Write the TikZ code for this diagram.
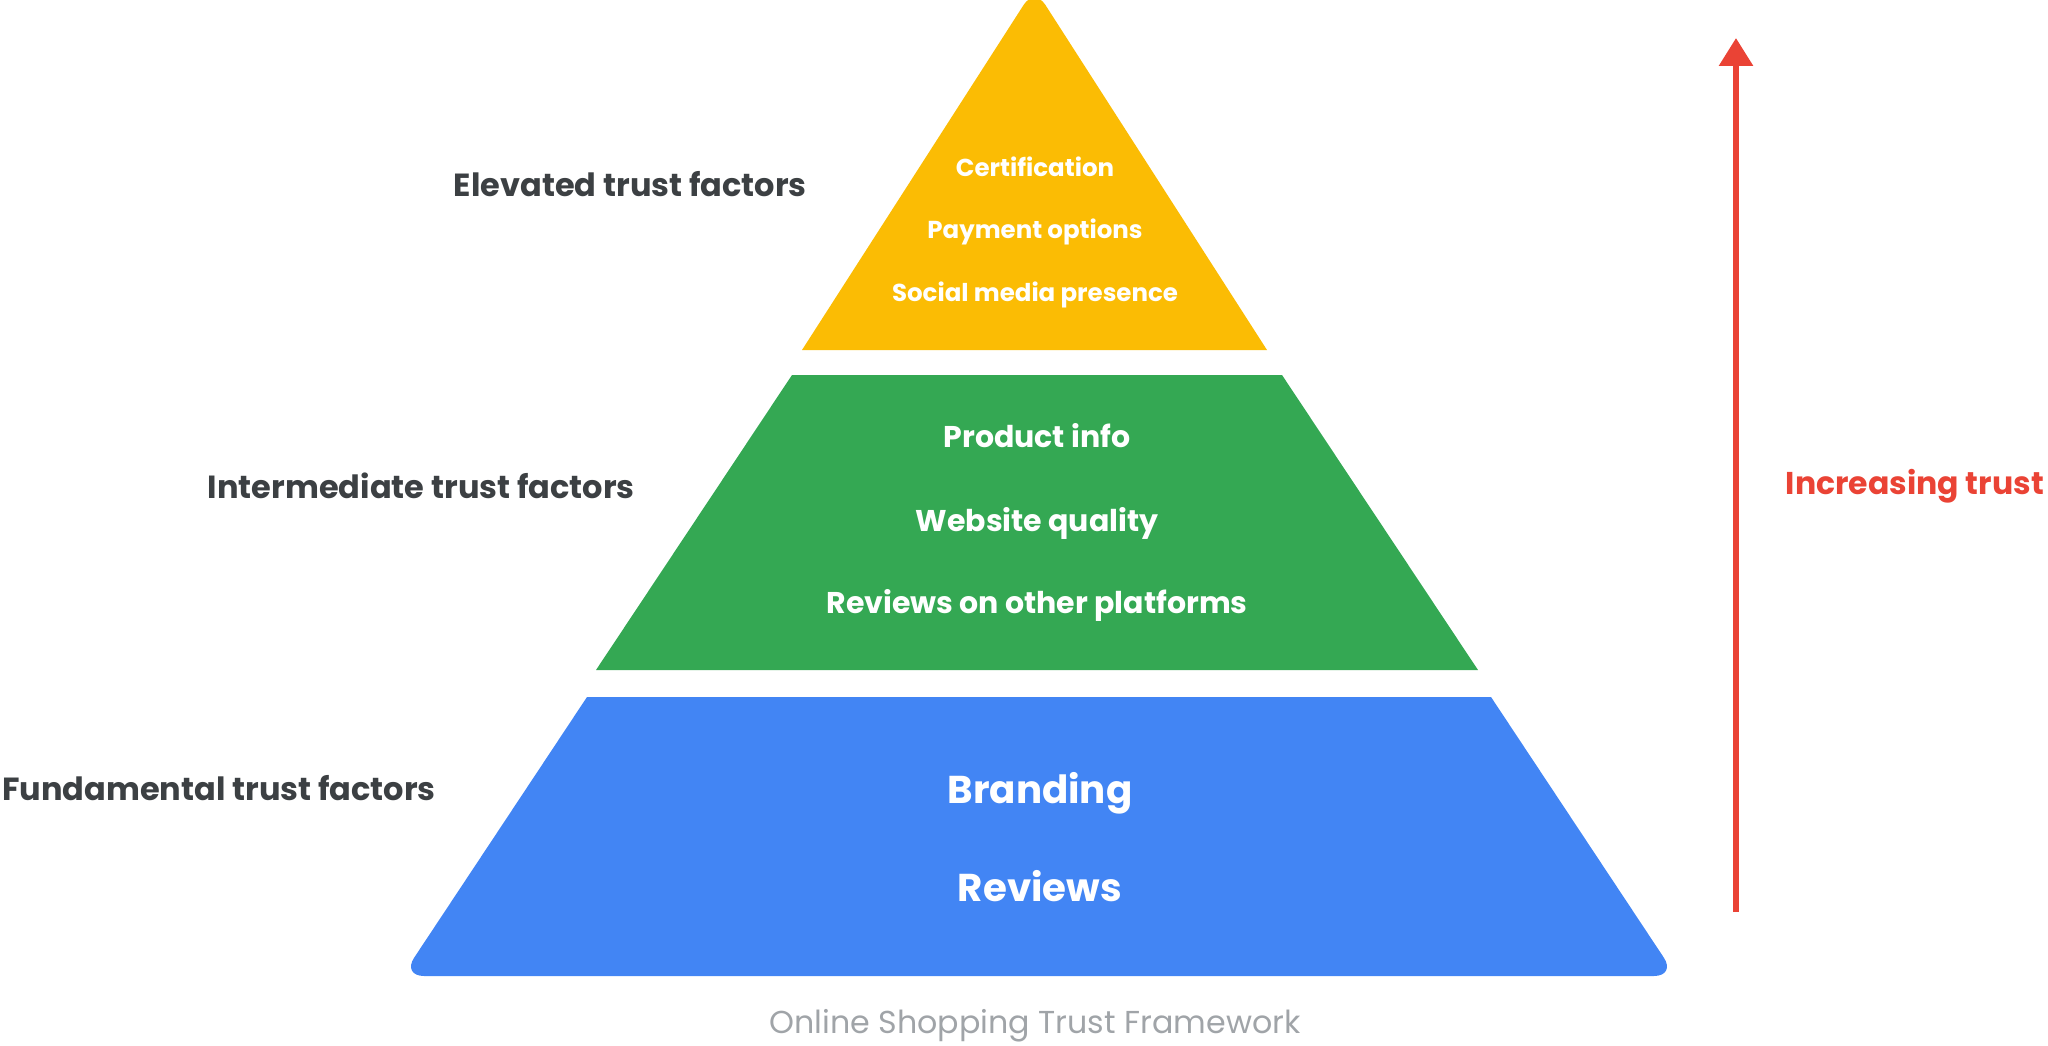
\documentclass[tikz,border=0pt]{standalone}
\usepackage{fontspec}
\setmainfont{Poppins}
\usetikzlibrary{arrows.meta}
\definecolor{gyellow}{HTML}{FBBC04}
\definecolor{ggreen}{HTML}{34A853}
\definecolor{gblue}{HTML}{4285F4}
\definecolor{gred}{HTML}{EA4335}
\definecolor{gdark}{HTML}{3C4043}
\definecolor{ggray}{HTML}{A0A4A8}
\tikzset{
  sidelabel/.style={text=gdark, font=\fontsize{32}{38}\selectfont\bfseries, inner sep=0pt, anchor=center},
  toptext/.style={text=white, font=\fontsize{24.5}{30}\selectfont\bfseries, inner sep=0pt, anchor=center},
  midtext/.style={text=white, font=\fontsize{30}{36}\selectfont\bfseries, inner sep=0pt, anchor=center},
  bottext/.style={text=white, font=\fontsize{38.8}{46}\selectfont\bfseries, inner sep=0pt, anchor=center},
  trendlabel/.style={text=gred, font=\fontsize{31.5}{38}\selectfont\bfseries, inner sep=0pt, anchor=center},
  captionlabel/.style={text=ggray, font=\fontsize{31.7}{38}\selectfont, inner sep=0pt, anchor=center},
}
\begin{document}
\begin{tikzpicture}[x=1pt, y=-1pt]
\useasboundingbox (0,0) rectangle (2048,1046);
% top tier
\fill[gyellow] (918.25,169) [rounded corners=20pt] -- (1034.5,-12) -- (1150.75,169) [sharp corners] -- (1267,350) -- (802,350) -- cycle;
% middle tier
\fill[ggreen] (792,375) -- (1282,375) -- (1478,670) -- (596,670) -- cycle;
% bottom tier
\fill[gblue] (494.5,836.5) [rounded corners=22pt] -- (402,976) -- (1676,976) -- (1583.5,836.5) [sharp corners] -- (1491,697) -- (587,697) -- cycle;

% side labels
\node[sidelabel, anchor=east] (lelev) at (807,184) {Elevated trust factors};
\node[sidelabel, anchor=east] (linter) at (635,486) {Intermediate trust factors};
\node[sidelabel, anchor=west] (lfund) at (2,788) {Fundamental trust factors};

% top tier texts
\node[toptext] (cert) at (1035,167) {Certification};
\node[toptext] (pay) at (1035,232) {Payment options};
\node[toptext] (social) at (1035,295) {Social media presence};

% middle tier texts
\node[midtext] (prod) at (1037,436) {Product info};
\node[midtext] (web) at (1037,523) {Website quality};
\node[midtext] (revo) at (1037,605) {Reviews on other platforms};

% bottom tier texts
\node[bottext] (brand) at (1040,793) {Branding};
\node[bottext] (rev) at (1040,886) {Reviews};

% arrow
\coordinate (abot) at (1736,912);
\coordinate (atop) at (1736,38);
\draw[gred, line width=6pt, -{Triangle[width=33pt,length=28pt]}] (abot) -- (atop);
\node[trendlabel, anchor=east] (trust) at (2044,486) {Increasing trust};

% caption
\node[captionlabel] (cap) at (1035,1026) {Online Shopping Trust Framework};
\end{tikzpicture}
\end{document}
